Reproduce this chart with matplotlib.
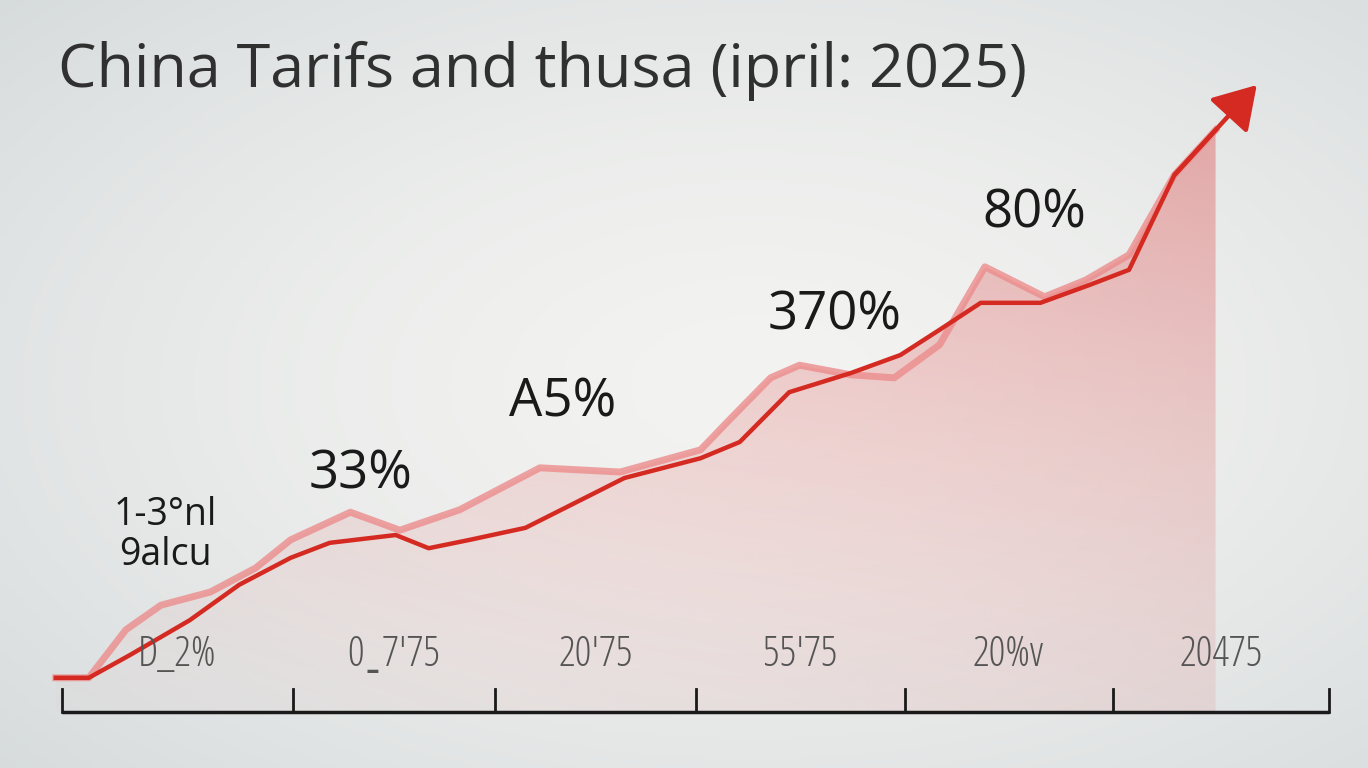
import matplotlib
matplotlib.use("Agg")
import matplotlib.pyplot as plt
import numpy as np
from matplotlib.colors import to_rgb

# 数据（从图中估读，x 为刻度序号，y 为百分比）
main_x = [-0.03, 0.13, 0.33, 0.62, 0.86, 1.11, 1.30, 1.62, 1.78, 1.98, 2.25, 2.47,
          2.73, 3.10, 3.29, 3.53, 3.83, 4.07, 4.26, 4.46, 4.75, 4.99, 5.18, 5.40, 5.60]
main_y = [5.7, 5.7, 9.5, 15.3, 21.2, 25.7, 28.2, 29.5, 27.3, 28.7, 30.7, 34.5,
          39.0, 42.3, 45.0, 53.3, 56.5, 59.5, 63.7, 68.2, 68.2, 71.2, 73.7, 89.5, 97.0]
arrow_tip = (5.80, 104.5)

light_x = [-0.03, 0.13, 0.31, 0.48, 0.72, 0.94, 1.11, 1.40, 1.64, 1.93, 2.32, 2.71,
           3.10, 3.24, 3.44, 3.58, 3.83, 4.04, 4.26, 4.48, 4.77, 4.97, 5.18, 5.40, 5.60]
light_y = [5.7, 5.7, 13.7, 17.8, 20.0, 24.0, 28.7, 33.3, 30.3, 33.7, 40.7, 40.0,
           43.7, 48.7, 55.7, 57.8, 56.2, 55.7, 61.2, 74.2, 69.2, 72.0, 76.2, 89.5, 97.0]

tick_pos = [0, 1.12, 2.10, 3.08, 4.09, 5.10, 6.15]
tick_labels = ["D_2%", "0\u02cd7'75", "20'75", "55'75", "20%v", "20475"]

notes = ["1-3\u00b0nl\n9alcu", "33%", "A5%", "370%", "80%"]
note_pos = [(0.50, 29.5), (1.45, 39.5), (2.43, 51.5), (3.75, 66.0), (4.72, 83.0)]
note_size = [27, 38, 38, 38, 38]

title = "China Tarifs and thusa (ipril: 2025)"

plt.rcParams['font.family'] = ['Open Sans', 'DejaVu Sans']

fig = plt.figure(figsize=(13.68, 7.68), dpi=100)
ax = fig.add_axes([0, 0, 1, 1])
xlim = (-0.301, 6.340)
ylim = (-9.33, 118.67)
ax.set_xlim(xlim)
ax.set_ylim(ylim)
ax.axis("off")

# 背景渐变
h, w = 200, 360
yy, xx = np.mgrid[0:h, 0:w]
r = np.sqrt(((xx - w * 0.55) / w) ** 2 + ((yy - h * 0.5) / h) ** 2)
c0 = np.array(to_rgb("#f3f3f1"))
c1 = np.array(to_rgb("#d6dbdc"))
t = np.clip(r / 0.75, 0, 1)[..., None] ** 1.6
bg = c0 * (1 - t) + c1 * t
ax.imshow(bg, extent=[*xlim, *ylim], aspect="auto", zorder=0)

# 填充区域（渐变）
fx = np.linspace(-0.03, 5.6, 400)
top_y = np.maximum(np.interp(fx, main_x, main_y), np.interp(fx, light_x, light_y))
poly = ax.fill_between(fx, 0, top_y, color="none", lw=0)
gh, gw = 200, 300
gy, gx = np.mgrid[0:gh, 0:gw]
alpha = 0.02 + 0.38 * (1 - gy / gh) ** 1.3 + 0.12 * (gx / gw)
fill_img = np.zeros((gh, gw, 4))
fill_img[..., :3] = to_rgb("#e06a6a")
fill_img[..., 3] = np.clip(alpha, 0, 0.55)
im = ax.imshow(fill_img, extent=[-0.03, 5.6, 0, 100], aspect="auto", zorder=1)
im.set_clip_path(poly.get_paths()[0], transform=ax.transData)

# 线
ax.plot(light_x, light_y, color="#ec8c8c", lw=5, alpha=0.8, zorder=2,
        solid_joinstyle="round")
ax.plot(main_x, main_y, color="#d42a22", lw=3.2, zorder=3, solid_joinstyle="round")
ax.annotate("", xy=arrow_tip, xytext=(main_x[-2], main_y[-2]),
            arrowprops=dict(arrowstyle="-|>,head_length=2.6,head_width=1.6",
                            color="#d42a22", lw=3.2, shrinkA=0, shrinkB=0),
            zorder=4)

# 坐标轴
ax.plot([tick_pos[0], tick_pos[-1]], [0, 0], color="#1a1a1a", lw=2.5, zorder=3,
        solid_capstyle="butt")
for p in tick_pos:
    ax.plot([p, p], [0, 3.8], color="#1a1a1a", lw=2, zorder=3)
for i, lab in enumerate(tick_labels):
    ax.text((tick_pos[i] + tick_pos[i + 1]) / 2, 9.5, lab, ha="center", va="center",
            fontsize=30, color="#555555", fontstretch="condensed", zorder=5)

# 标注
for s, (px, py), fs in zip(notes, note_pos, note_size):
    ax.text(px, py, s, ha="center", va="center", fontsize=fs, color="#1a1a1a",
            linespacing=1.05, zorder=5)

ax.text(-0.02, 106.8, title, ha="left", va="center", fontsize=44, color="#303030",
        fontweight="medium", zorder=5)

fig.savefig("out.png", dpi=100)
